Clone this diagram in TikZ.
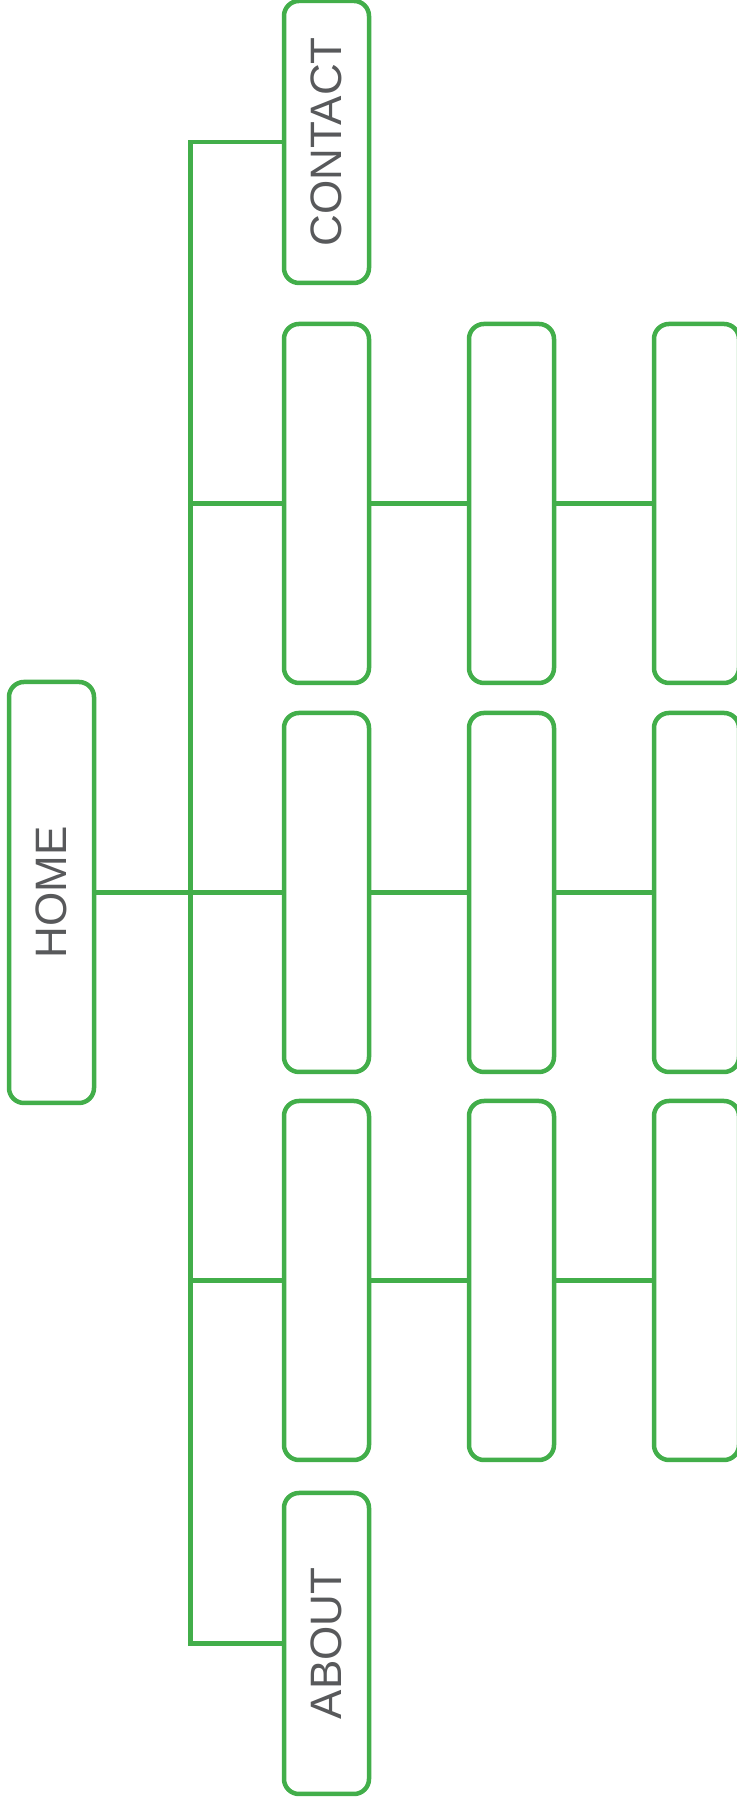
\documentclass[tikz,border=0pt]{standalone}
\usepackage{fontspec}
\setmainfont{Liberation Sans}
\usepackage{graphicx}
\usetikzlibrary{positioning}
\definecolor{cLink}{RGB}{66,174,74}
\definecolor{cText}{RGB}{88,89,91}

\begin{document}
\begin{tikzpicture}[
  x=1pt,y=1pt,
  node distance=100pt,
  page/.style={draw=cLink,line width=4.5pt,rounded corners=15pt,inner sep=0pt,
               outer sep=0pt,minimum width=85pt,minimum height=359pt,
               font=\fontsize{44}{44}\selectfont,text=cText},
  link/.style={draw=cLink,line width=4.5pt},
]
\useasboundingbox (0,0) rectangle (736,1798);

\node[page,minimum height=421pt] (home) at (51.5,905.5) {\rotatebox{90}{HOME}};

% middle row
\node[page] (m1) at (326.5,905.5) {};
\node[page,right=of m1] (m2) {};
\node[page,right=of m2] (m3) {};
% top row
\node[page,above=30pt of m1] (t1) {};
\node[page,right=of t1] (t2) {};
\node[page,right=of t2] (t3) {};
% bottom row
\node[page,below=29pt of m1] (b1) {};
\node[page,right=of b1] (b2) {};
\node[page,right=of b2] (b3) {};

\node[page,minimum height=282pt,above=41pt of t1] (contact) {\rotatebox{90}{CONTACT}};
\node[page,minimum height=301pt,below=33pt of b1] (about)   {\rotatebox{90}{ABOUT}};

\coordinate (jn) at (190.5,905.5);
\draw[link] (contact.west) -| (jn) |- (about.west);
\draw[link] (home) -- (m1);
\foreach \r in {t,b}
  \draw[link] (jn |- \r1.west) -- (\r1);
\foreach \r in {t,m,b} {
  \draw[link] (\r1) -- (\r2);
  \draw[link] (\r2) -- (\r3);
}
\end{tikzpicture}
\end{document}
